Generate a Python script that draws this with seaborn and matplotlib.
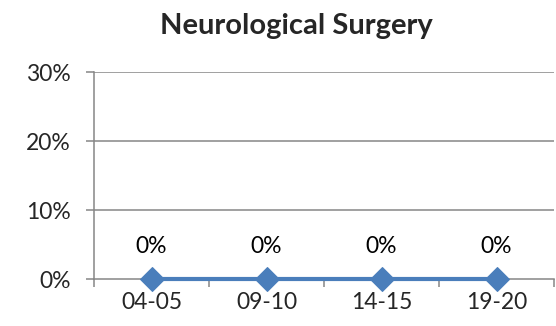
import pandas as pd
import seaborn as sns
import matplotlib.pyplot as plt
from matplotlib.ticker import FixedLocator

sns.set_style("white")
plt.rcParams["font.family"] = ["Lato", "DejaVu Sans"]

periods = ["04-05", "09-10", "14-15", "19-20"]
shares = [0.0, 0.0, 0.0, 0.0]
y_ticks = [0.0, 0.1, 0.2, 0.3]
y_labels = ["0%", "10%", "20%", "30%"]

df = pd.DataFrame({"period": periods, "share": shares})

fig = plt.figure(figsize=(5.56, 3.26), dpi=100)
ax = fig.add_axes([94 / 556, 0.144, 460 / 556, 0.635])

line_color = "#4A7EBB"
grid_color = "#868686"

sns.lineplot(data=df, x="period", y="share", ax=ax, color=line_color,
             linewidth=3, marker="D", markersize=12,
             markeredgecolor=line_color, sort=False, clip_on=False, zorder=5)

for i, v in enumerate(shares):
    ax.annotate(f"{v:.0%}", (i, v), xytext=(0, 16), textcoords="offset points",
                ha="center", va="bottom", fontsize=16.5, color="black")

ax.set_xlim(-0.5, len(periods) - 0.5)
ax.set_ylim(0, 0.3)
ax.set_yticks(y_ticks)
ax.set_yticklabels(y_labels)
ax.set_xticks(range(len(periods)))
ax.set_xticklabels(periods)
ax.xaxis.set_minor_locator(FixedLocator([i - 0.5 for i in range(len(periods) + 1)]))

for y in y_ticks[1:]:
    ax.axhline(y, color=grid_color, linewidth=1.1, zorder=0)

for side in ["top", "right"]:
    ax.spines[side].set_visible(False)
for side in ["left", "bottom"]:
    ax.spines[side].set_color(grid_color)
    ax.spines[side].set_linewidth(1.1)
ax.spines["bottom"].set_zorder(0)

ax.tick_params(axis="y", which="major", length=6, width=1.1, color=grid_color,
               labelsize=16.5, pad=11, left=True)
ax.tick_params(axis="x", which="major", length=0, labelsize=16.5, pad=9)
ax.tick_params(axis="x", which="minor", length=6, width=1.1, color=grid_color,
               bottom=True)

ax.set_xlabel("")
ax.set_ylabel("")
fig.text(296 / 556, 1 - 26 / 326, "Neurological Surgery", fontsize=21,
         fontweight="bold", ha="center", va="center")

fig.savefig("out.png", dpi=100, facecolor="white")
